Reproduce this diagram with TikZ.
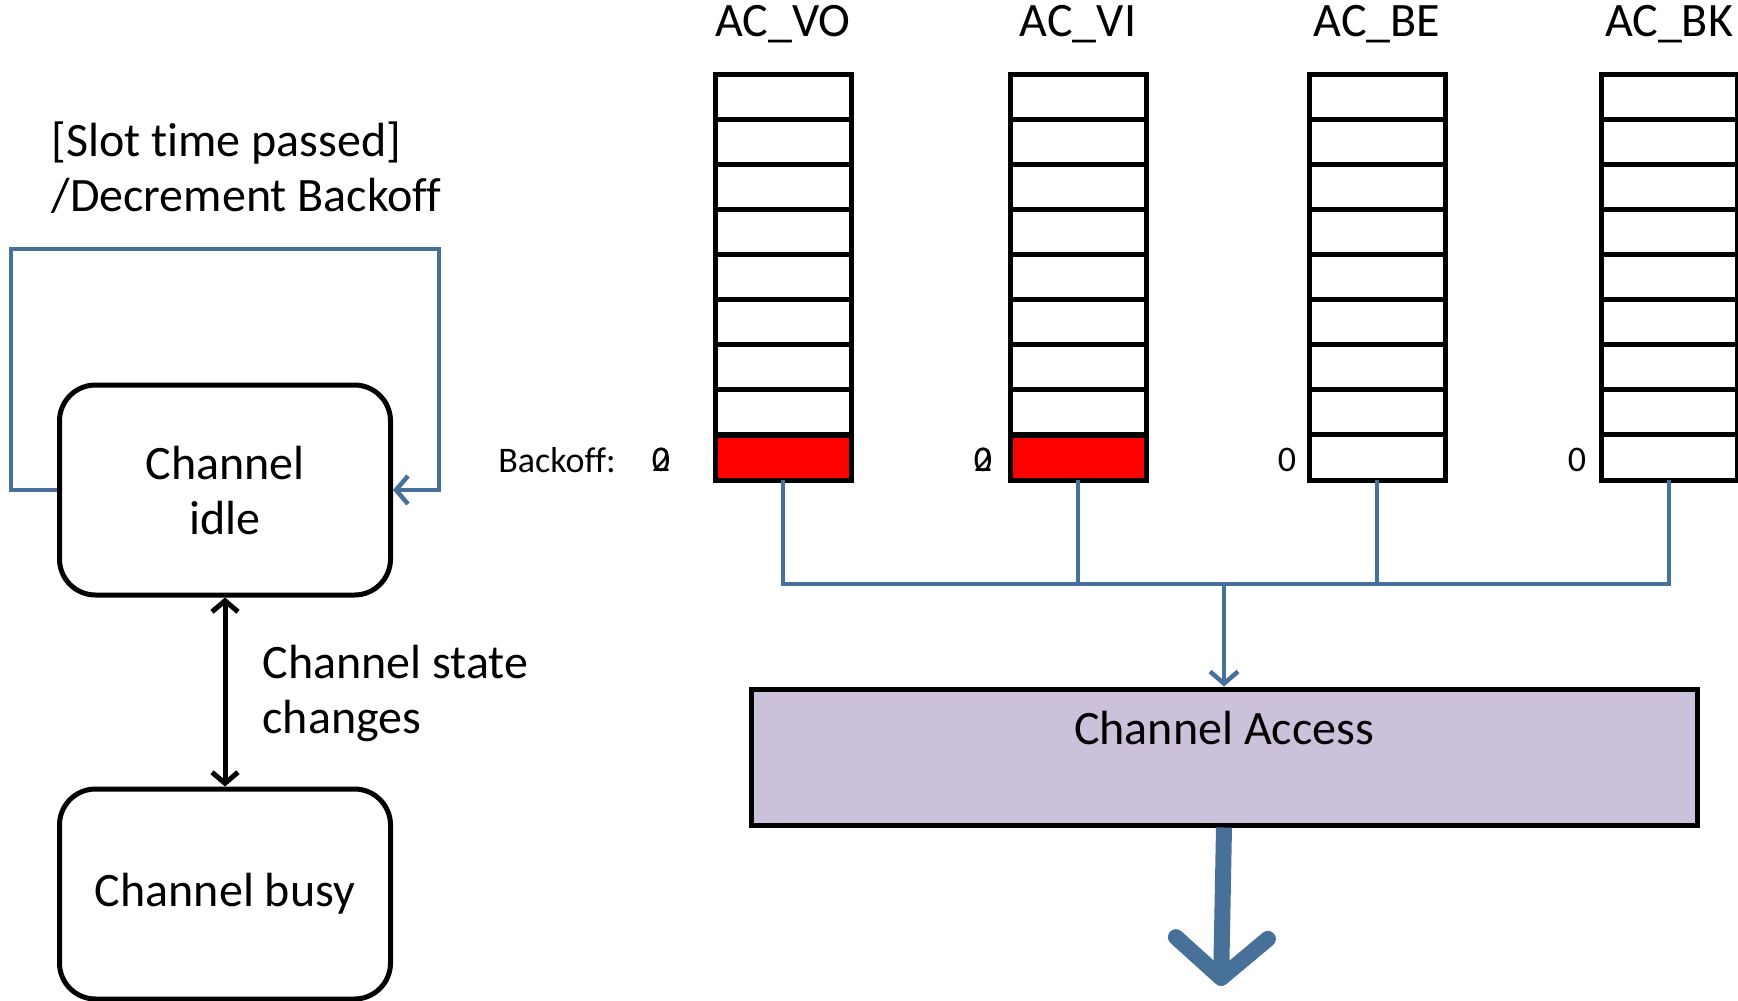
\documentclass[tikz,border=0pt]{standalone}
\usepackage{fontspec}
\setmainfont{Carlito}[Ligatures=NoCommon]
\usetikzlibrary{arrows.meta, positioning, calc}
\definecolor{linkblue}{RGB}{72,113,153}
\definecolor{accessfill}{RGB}{204,193,218}
\newcommand{\bigtext}{\fontsize{48}{55}\selectfont}
\newcommand{\smalltext}{\fontsize{36}{40}\selectfont}
\tikzset{
    statebox/.style={rectangle, draw, line width=5pt, rounded corners=36pt, minimum width=331pt, minimum height=210pt, align=center},
    queuebox/.style={rectangle, draw, line width=5pt, outer sep=0pt, minimum width=136pt, minimum height=406pt},
    accessbox/.style={rectangle, draw, line width=5pt, fill=accessfill, minimum width=946pt, minimum height=136pt},
    slotline/.style={line width=5pt},
    link/.style={draw=linkblue, line width=4.5pt},
    linkarrow/.style={link, -{Straight Barb[length=12pt, width=28pt]}},
    statearrow/.style={line width=5pt, {Straight Barb[length=11pt, width=26pt]}-{Straight Barb[length=11pt, width=26pt]}},
    bigarrow/.style={draw=linkblue, line width=16pt, -{Straight Barb[length=40pt, width=92pt, round]}},
    backofflabel/.style={font=\smalltext},
}

\begin{document}
\begin{tikzpicture}[x=1pt, y=-1pt, font=\bigtext]
    \useasboundingbox (0,0) rectangle (1738,1001);

    % Channel states
    \node[statebox] (idle) at (225,490) {Channel\\idle};
    \node[statebox] (busy) at (225,894) {Channel busy};
    \node[anchor=west, align=left] (slot) at (48,168) {[Slot time passed]\\/Decrement Backoff};
    \node[anchor=west, align=left] (changes) at (259,693) {Channel state\\changes};

    \draw[linkarrow] (idle.west) -| (11,249) -| (439,490) -- (idle.east);
    \draw[statearrow] (idle.south) -- (busy.north);

    % Access category queues
    \foreach \name/\x/\title in {vo/783/AC\_VO, vi/1078/AC\_VI, be/1377/AC\_BE, bk/1669/AC\_BK} {
        \node[queuebox] (\name) at (\x,277) {};
        \node (\name-title) at (\x,24) {\title};
        \foreach \k in {1,...,8}
            \draw[slotline] ($(\name.north west)+(0,\k*45.1)$) -- ($(\name.north east)+(0,\k*45.1)$);
    }
    \draw[slotline, fill=red] ($(vo.south west)+(0,-45)$) rectangle (vo.south east);
    \draw[slotline, fill=red] ($(vi.south west)+(0,-45)$) rectangle (vi.south east);

    % Backoff counters
    \node[backofflabel] (backoff) at (557,460) {Backoff:};
    \node[backofflabel] (vo-zero) at (661,460) {0};
    \node[backofflabel] (vo-two) at (661,460) {2};
    \node[backofflabel] (vi-zero) at (983,460) {0};
    \node[backofflabel] (vi-two) at (983,460) {2};
    \node[backofflabel] (be-zero) at (1287,460) {0};
    \node[backofflabel] (bk-zero) at (1577,460) {0};

    % Channel access
    \node[accessbox, label={[anchor=center, yshift=-42pt]north:Channel Access}] (access) at (1224,757) {};
    \coordinate (bus) at (1224,584);
    \coordinate (out) at (1221,986);

    \draw[link] (vo.south) |- (bk.south |- bus) -- (bk.south);
    \draw[link] (vi.south) -- (vi.south |- bus);
    \draw[link] (be.south) -- (be.south |- bus);
    \draw[linkarrow] (bus) -- (access.north);
    \draw[bigarrow] (access.south) -- (out);
\end{tikzpicture}
\end{document}
